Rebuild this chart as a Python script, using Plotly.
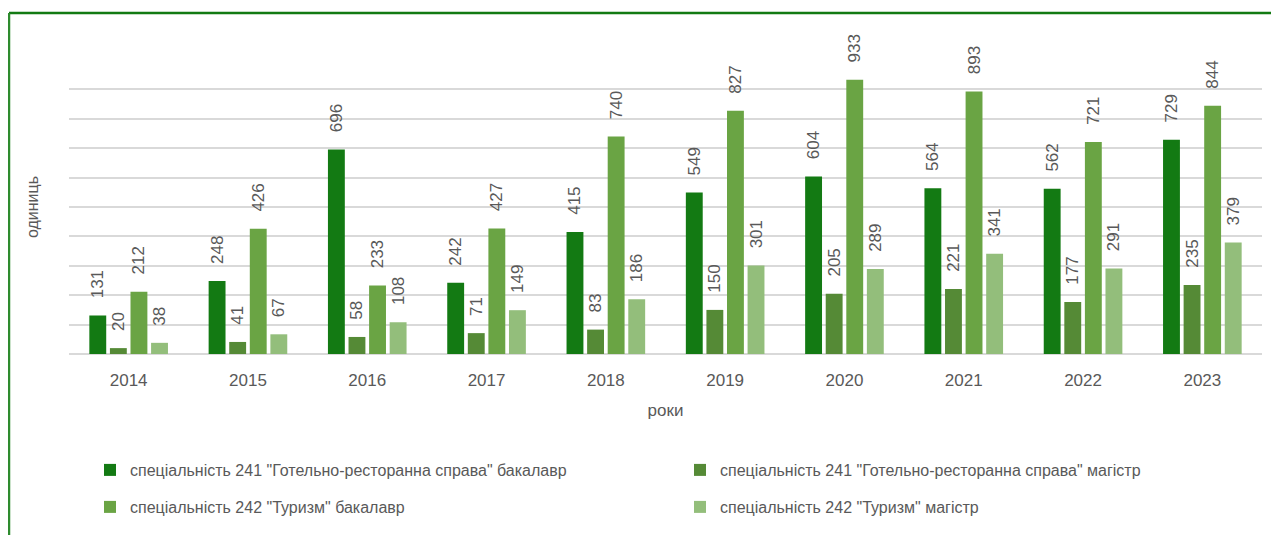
import plotly.graph_objects as go

years = ["2014", "2015", "2016", "2017", "2018", "2019", "2020", "2021", "2022", "2023"]
s241_bak = [131, 248, 696, 242, 415, 549, 604, 564, 562, 729]
s241_mag = [20, 41, 58, 71, 83, 150, 205, 221, 177, 235]
s242_bak = [212, 426, 233, 427, 740, 827, 933, 893, 721, 844]
s242_mag = [38, 67, 108, 149, 186, 301, 289, 341, 291, 379]

names = [
    'спеціальність 241 "Готельно-ресторанна справа" бакалавр',
    'спеціальність 241 "Готельно-ресторанна справа" магістр',
    'спеціальність 242 "Туризм" бакалавр',
    'спеціальність 242 "Туризм" магістр',
]
colors = ["#137a13", "#558a36", "#6aa444", "#93be7b"]
series = [s241_bak, s241_mag, s242_bak, s242_mag]
legends = ["legend", "legend2", "legend3", "legend4"]

FONT = "Liberation Sans"
TXT = "#595959"
# page body has an 8px margin, so the figure is laid out 8px smaller/shifted
W, H = 1271, 527
PL, PT, PW, PH = 61, 52, 1193, 294

fig = go.Figure()
for nm, col, vals, lg in zip(names, colors, series, legends):
    fig.add_trace(go.Bar(
        x=years, y=vals, name=nm, marker_color=col, marker_line_width=0,
        text=vals, texttemplate="\u00a0\u00a0\u00a0%{y}", textposition="outside",
        textangle=-90, constraintext="none", cliponaxis=False,
        textfont=dict(family=FONT, size=17, color=TXT),
        legend=lg,
    ))

leg_pos = {"legend": (82, 462), "legend2": (672, 462), "legend3": (82, 499), "legend4": (672, 499)}
lay_legends = {}
for lg, (px, py) in leg_pos.items():
    lay_legends[lg] = dict(
        xref="container", yref="container", x=px / W, y=1 - py / H,
        xanchor="left", yanchor="middle", orientation="h",
        font=dict(family=FONT, size=16, color=TXT), bgcolor="rgba(0,0,0,0)",
    )

top_y = (PH + PT - 5) / PH
left_x = (1 - PL) / PW

fig.update_layout(
    width=W, height=H,
    margin=dict(l=PL, r=W - PL - PW, t=PT, b=H - PT - PH),
    paper_bgcolor="white", plot_bgcolor="white",
    barmode="group", bargap=0.31, bargroupgap=0.18,
    font=dict(family=FONT, color=TXT),
    xaxis=dict(
        showgrid=False, showline=False, zeroline=False,
        ticks="outside", ticklen=11, tickcolor="rgba(0,0,0,0)",
        tickfont=dict(family=FONT, size=17, color=TXT),
        title=dict(text="роки", font=dict(family=FONT, size=17, color=TXT), standoff=14),
    ),
    yaxis=dict(
        range=[0, 1000], dtick=100, showticklabels=False,
        showgrid=True, gridcolor="#d9d9d9", gridwidth=1.5,
        zeroline=True, zerolinecolor="#d9d9d9", zerolinewidth=1.5,
        title=dict(text="одиниць", font=dict(family=FONT, size=16, color=TXT), standoff=25),
    ),
    showlegend=True,
    **lay_legends,
    shapes=[
        dict(type="line", xref="paper", yref="paper", x0=left_x, x1=1.1, y0=top_y, y1=top_y,
             line=dict(color="#137a13", width=2.5)),
        dict(type="line", xref="paper", yref="paper", x0=left_x, x1=left_x, y0=top_y, y1=-0.7,
             line=dict(color="#2e8b2e", width=2.5)),
    ],
)

fig.write_html("out.html")
